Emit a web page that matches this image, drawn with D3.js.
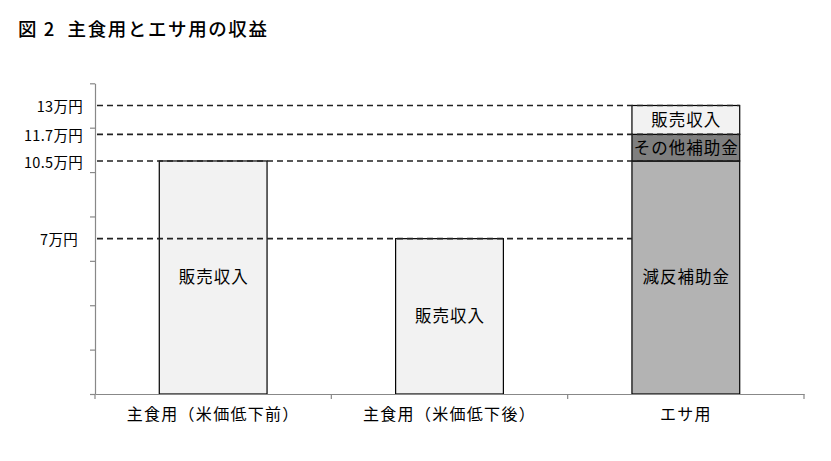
<!DOCTYPE html>
<html><head><meta charset="utf-8">
<script src="https://cdn.jsdelivr.net/npm/d3@7"></script>
<style>
body{margin:0;background:#fff;}
text{font-family:"Noto Sans CJK JP","Noto Sans",sans-serif;fill:#000;}
</style></head>
<body>
<svg id="c" width="831" height="461"></svg>
<script>
const categories = ["主食用（米価低下前）", "主食用（米価低下後）", "エサ用"];
const keys = ["減反補助金", "その他補助金", "販売収入"];
const gentan = [0, 0, 10.5];
const sonota = [0, 0, 1.2];
const hanbai = [10.5, 7, 1.3];
const refValues = [13, 11.7, 10.5, 7];
const refLabels = ["13万円", "11.7万円", "10.5万円", "7万円"];
const yTicks = [0, 2, 4, 6, 8, 10, 12, 14];
const title = "図 2  主食用とエサ用の収益";

const colors = {"減反補助金": "#b3b3b3", "その他補助金": "#7f7f7f", "販売収入": "#f2f2f2"};

const rows = categories.map((c, i) => ({cat: c, "減反補助金": gentan[i], "その他補助金": sonota[i], "販売収入": hanbai[i]}));
const stacked = d3.stack().keys(keys)(rows);

const svg = d3.select("#c");
const mLeft = 95, mRight = 804, mTop = 83.3, mBottom = 394;

const x = d3.scaleBand().domain(categories).range([mLeft, mRight]).paddingInner(0).paddingOuter(0);
const y = d3.scaleLinear().domain([0, 14]).range([mBottom, mTop]);
const barW = x.bandwidth() * 0.456;
const bx = c => x(c) + (x.bandwidth() - barW) / 2;

svg.append("text").attr("x", 18).attr("y", 36).attr("font-size", 18.5).attr("font-weight", 500)
  .attr("letter-spacing", 1.6).style("white-space", "pre").text(title);

// bars
stacked.forEach(layer => {
  svg.append("g").selectAll("rect").data(layer.filter(d => d[1] - d[0] > 0)).join("rect")
    .attr("x", d => bx(d.data.cat)).attr("width", barW)
    .attr("y", d => y(d[1])).attr("height", d => y(d[0]) - y(d[1]))
    .attr("fill", colors[layer.key]).attr("stroke", "#000").attr("stroke-width", 1.2);
});

// segment labels
stacked.forEach(layer => {
  svg.append("g").selectAll("text").data(layer.filter(d => d[1] - d[0] > 0)).join("text")
    .attr("x", d => bx(d.data.cat) + barW / 2 + 0.5)
    .attr("y", d => (y(d[0]) + y(d[1])) / 2)
    .attr("dy", "0.36em").attr("text-anchor", "middle").attr("font-size", 16.5)
    .attr("letter-spacing", 1)
    .text(layer.key);
});

// y axis
const yAxis = d3.axisLeft(y).tickValues(yTicks).tickFormat("").tickSize(5).tickSizeOuter(0);
const gy = svg.append("g").attr("transform", `translate(${mLeft},0)`).call(yAxis);
gy.selectAll("path,line").attr("stroke", "#888").attr("stroke-width", 1.2);

// x axis
const gx = svg.append("g").attr("transform", `translate(0,${mBottom})`)
  .call(d3.axisBottom(x).tickSize(0).tickPadding(15));
gx.select(".domain").attr("stroke", "#888").attr("stroke-width", 1.2);
gx.selectAll("text").attr("font-size", 16).attr("letter-spacing", 1.3)
  .style("font-family", '"Noto Sans CJK JP",sans-serif').attr("fill", "#000");
const edges = categories.map(c => x(c)).concat([mRight]);
svg.append("g").selectAll("line").data(edges).join("line")
  .attr("x1", d => d).attr("x2", d => d).attr("y1", mBottom).attr("y2", mBottom + 5)
  .attr("stroke", "#888").attr("stroke-width", 1.2);

// reference lines
const third = categories[2];
refValues.forEach((v, i) => {
  const xEnd = v === 7 ? bx(third) : bx(third) + barW;
  svg.append("line").attr("x1", mLeft + 2).attr("x2", xEnd)
    .attr("y1", y(v)).attr("y2", y(v))
    .attr("stroke", "#222").attr("stroke-width", 1.6).attr("stroke-dasharray", "6,4");
  svg.append("text").attr("x", v === 7 ? 78 : 83).attr("y", y(v) + 1.5).attr("dy", "0.36em")
    .attr("text-anchor", "end").attr("font-size", 14.5).attr("letter-spacing", 0.3).text(refLabels[i]);
});
</script>
</body></html>
